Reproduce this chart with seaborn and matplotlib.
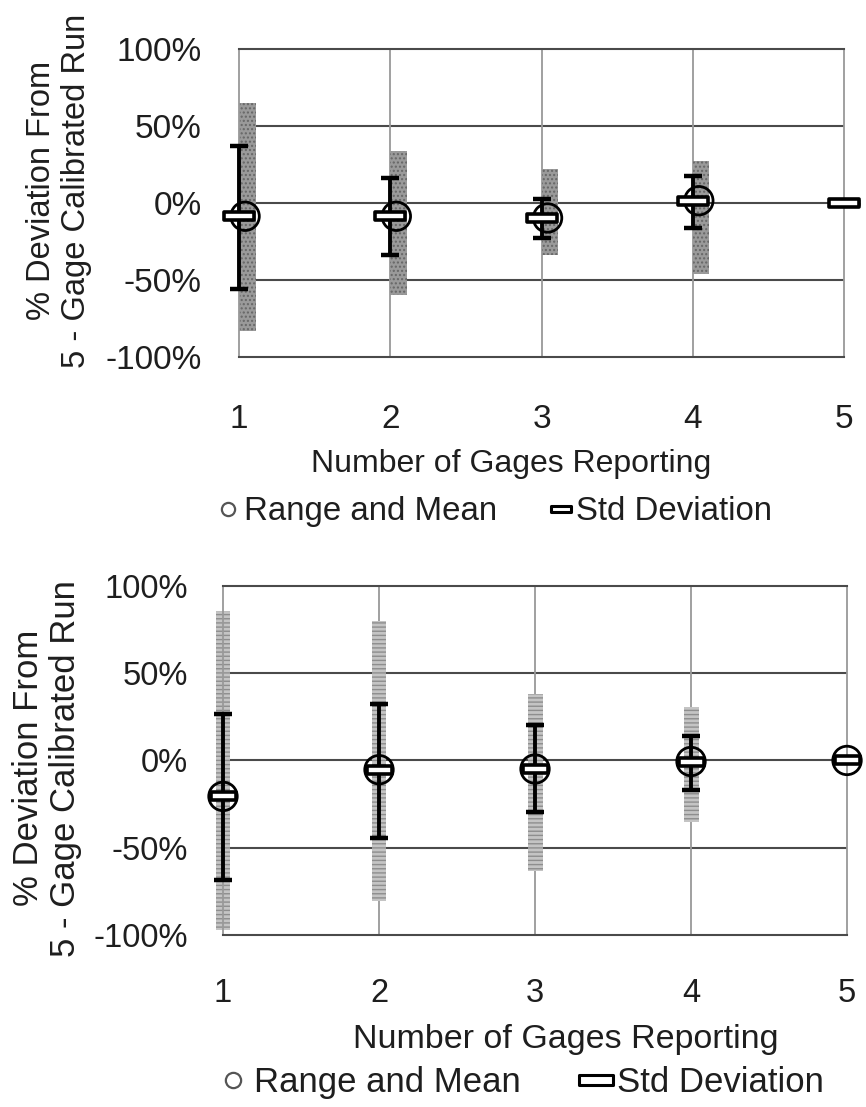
import numpy as np
import pandas as pd
import matplotlib
matplotlib.use("Agg")
import matplotlib.pyplot as plt
from matplotlib.lines import Line2D
from matplotlib.path import Path
from matplotlib.ticker import PercentFormatter
import seaborn as sns

# ---------------- data (values in %) ----------------
gages = [1, 2, 3, 4, 5]
x_ticks = ["1", "2", "3", "4", "5"]
y_ticks = [-100, -50, 0, 50, 100]

top_mean = [-8.6, -8.6, -9.7, 1.5, np.nan]
top_range_max = [37.0, 16.0, 2.6, 17.6, np.nan]
top_range_min = [-56.0, -34.0, -22.6, -16.0, np.nan]
top_std_mean = [-8.6, -8.6, -9.7, 1.5, 0.0]
top_std_hi = [65.0, 34.0, 22.0, 27.0, 2.0]
top_std_lo = [-83.0, -60.0, -34.0, -46.0, -2.0]

bot_mean = [-20.6, -5.3, -4.9, -0.6, 0.0]
bot_range_max = [26.8, 32.3, 20.5, 14.2, 0.0]
bot_range_min = [-68.4, -44.7, -29.8, -16.8, 0.0]
bot_std_mean = [-20.6, -5.3, -4.9, -0.6, 0.0]
bot_std_hi = [85.4, 79.7, 38.2, 30.6, 0.0]
bot_std_lo = [-97.0, -80.8, -63.6, -35.5, 0.0]

x_label = "Number of Gages Reporting"
y_label = "% Deviation From\n5 - Gage Calibrated Run"
leg_labels = ["Range and Mean", "Std Deviation"]

# ---------------- style ----------------
sns.set_theme(style="white")
FONT = ["Liberation Sans", "DejaVu Sans"]
plt.rcParams["font.family"] = FONT
plt.rcParams["axes.unicode_minus"] = False
TXT = "#1e1e1e"

dash_marker = Path([(-1, -0.28), (1, -0.28), (1, 0.28), (-1, 0.28), (-1, -0.28)],
                   [Path.MOVETO, Path.LINETO, Path.LINETO, Path.LINETO, Path.CLOSEPOLY])

fig = plt.figure(figsize=(8.66, 11.07), dpi=100)
ax_top = fig.add_axes([0.276, 0.6775, 0.6986, 0.2782])
ax_bot = fig.add_axes([0.2575, 0.1554, 0.7206, 0.3153])


def draw_panel(ax, mean, rmax, rmin, smean, shi, slo, bar_w, bar_align,
               circ_off, bar_face, bar_hatch_col, hatch, dash_ms,
               tick_fs, xpad, ypad, xlab_fs, xlab_xy, ylab_fs, ylab_xy,
               leg_fs, leg_xy, leg_circ_ms, leg_dash_ms, leg_hl, leg_pad, leg_cs):
    df = pd.DataFrame({
        "gages": gages,
        "mean": np.array(mean) / 100,
        "rmax": np.array(rmax) / 100,
        "rmin": np.array(rmin) / 100,
        "smean": np.array(smean) / 100,
        "shi": np.array(shi) / 100,
        "slo": np.array(slo) / 100,
    })
    # std deviation bars (textured gray)
    ax.bar(df["gages"], df["shi"] - df["slo"], bottom=df["slo"],
           width=bar_w, align=bar_align, color=bar_face, edgecolor=bar_hatch_col,
           hatch=hatch, linewidth=0, zorder=2, clip_on=False)
    # range error bars
    ok = df["mean"].notna()
    ax.errorbar(df.loc[ok, "gages"], df.loc[ok, "mean"],
                yerr=[df.loc[ok, "mean"] - df.loc[ok, "rmin"], df.loc[ok, "rmax"] - df.loc[ok, "mean"]],
                fmt="none", ecolor="black", elinewidth=2.8, capsize=6.2, capthick=3.2,
                zorder=3, clip_on=False)
    # mean circles
    sns.scatterplot(x=df.loc[ok, "gages"] + circ_off, y=df.loc[ok, "mean"], ax=ax,
                    marker="o", s=420, facecolor="none", edgecolor="black",
                    linewidth=2.0, zorder=5, clip_on=False, legend=False)
    # std dev dash markers
    ax.plot(df["gages"], df["smean"], ls="none", marker=dash_marker, ms=dash_ms,
            mfc="white", mec="black", mew=2.6, zorder=6, clip_on=False)

    ax.set_xlim(1, 5)
    ax.set_ylim(-1, 1)
    ax.set_xticks(gages)
    ax.set_xticklabels(x_ticks, fontsize=tick_fs, color=TXT)
    ax.set_yticks([v / 100 for v in y_ticks])
    ax.yaxis.set_major_formatter(PercentFormatter(1.0, decimals=0))
    ax.tick_params(axis="y", labelsize=tick_fs, labelcolor=TXT)
    ax.tick_params(axis="x", length=0, pad=xpad)
    ax.tick_params(axis="y", length=0, pad=ypad)

    ax.grid(False)
    for yv in y_ticks[1:-1]:
        ax.axhline(yv / 100, color="#4a4a4a", lw=1.5, zorder=1)
    for xv in gages[1:-1]:
        ax.axvline(xv, color="#999999", lw=1.3, zorder=1)
    for s in ["top", "bottom"]:
        ax.spines[s].set_color("#4a4a4a")
        ax.spines[s].set_linewidth(1.5)
    for s in ["left", "right"]:
        ax.spines[s].set_color("#999999")
        ax.spines[s].set_linewidth(1.3)

    ax.set_xlabel(x_label, fontsize=xlab_fs, color=TXT)
    ax.xaxis.set_label_coords(*xlab_xy)
    ax.set_ylabel(y_label, fontsize=ylab_fs, color=TXT, linespacing=1.15)
    ax.yaxis.set_label_coords(*ylab_xy)

    handles = [
        Line2D([], [], ls="none", marker="o", ms=leg_circ_ms, mfc="white", mec="#555555", mew=1.6),
        Line2D([], [], ls="none", marker=dash_marker, ms=leg_dash_ms, mfc="white", mec="black", mew=2.2),
    ]
    fig.legend(handles, leg_labels, loc="center", bbox_to_anchor=leg_xy, ncol=2,
               frameon=False, fontsize=leg_fs, handlelength=leg_hl,
               handletextpad=leg_pad, columnspacing=leg_cs, labelcolor=TXT,
               borderpad=0, borderaxespad=0)


draw_panel(ax_top, top_mean, top_range_max, top_range_min, top_std_mean, top_std_hi, top_std_lo,
           bar_w=0.11, bar_align="edge", circ_off=0.04,
           bar_face="#9a9a9a", bar_hatch_col="#666666", hatch="....", dash_ms=21,
           tick_fs=24, xpad=34, ypad=27, xlab_fs=23, xlab_xy=(0.4496, -0.30),
           ylab_fs=23.5, ylab_xy=(-0.243, 0.54),
           leg_fs=23.8, leg_xy=(0.5716, 0.5375), leg_circ_ms=9.5, leg_dash_ms=15,
           leg_hl=0.65, leg_pad=0.15, leg_cs=1.6)

draw_panel(ax_bot, bot_mean, bot_range_max, bot_range_min, bot_std_mean, bot_std_hi, bot_std_lo,
           bar_w=0.096, bar_align="center", circ_off=0.0,
           bar_face="#c4c4c4", bar_hatch_col="#8e8e8e", hatch="----", dash_ms=18,
           tick_fs=23.5, xpad=31, ypad=25, xlab_fs=24.5, xlab_xy=(0.55, -0.255),
           ylab_fs=25, ylab_xy=(-0.226, 0.478),
           leg_fs=25, leg_xy=(0.60, 0.0217), leg_circ_ms=11, leg_dash_ms=24,
           leg_hl=1.0, leg_pad=0.1, leg_cs=1.67)

fig.savefig("out.png", dpi=100)
